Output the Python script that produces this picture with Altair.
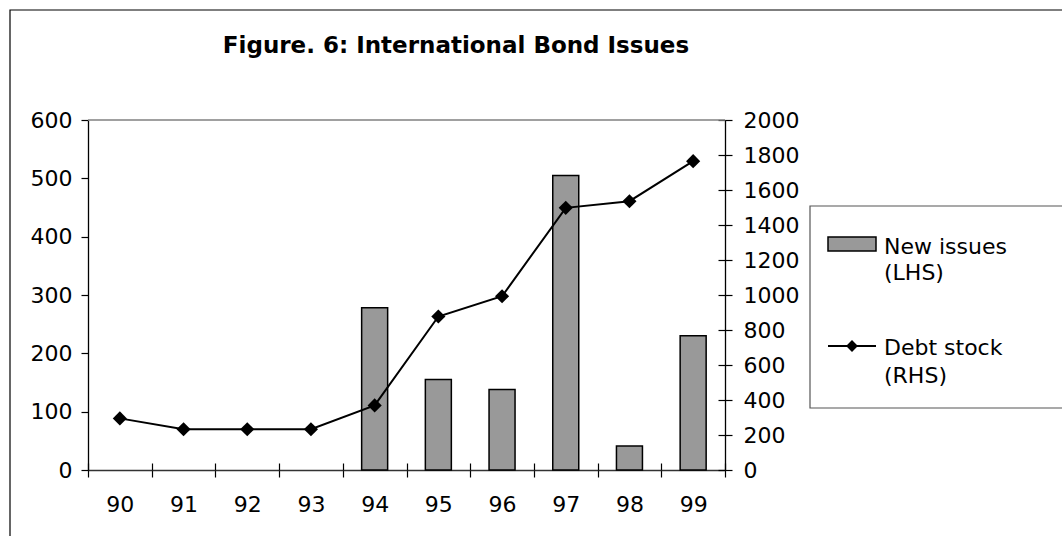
import altair as alt
import pandas as pd

years = ["90", "91", "92", "93", "94", "95", "96", "97", "98", "99"]
new_issues = [None, None, None, None, 278, 155, 138, 505, 41, 230]
debt_stock = [295, 233, 233, 233, 369, 877, 993, 1498, 1536, 1765]
left_ticks = [0, 100, 200, 300, 400, 500, 600]
right_ticks = [0, 200, 400, 600, 800, 1000, 1200, 1400, 1600, 1800, 2000]
legend_labels = ["New issues", "(LHS)", "Debt stock", "(RHS)"]
title_text = "Figure. 6: International Bond Issues"

FONT = "DejaVu Sans"
FS = 22
W, H = 637, 350

df = pd.DataFrame({"year": years, "new": new_issues, "debt": debt_stock})
one = pd.DataFrame({"k": [0]})

xscale = alt.Scale(paddingInner=0, paddingOuter=0)

bars = alt.Chart(df).mark_bar(size=26, fill="#999999", stroke="black", strokeWidth=1.5).encode(
    x=alt.X("year:N", sort=years, scale=xscale, title=None,
            axis=alt.Axis(orient="bottom", tickBand="extent", tickSize=7, tickColor="black",
                          tickWidth=1.2, domainColor="#333333", domainWidth=1.3, labelAngle=0,
                          labelPadding=17, labelFont=FONT, labelFontSize=FS, labelColor="black",
                          grid=False)),
    y=alt.Y("new:Q", scale=alt.Scale(domain=[0, 600], nice=False, zero=True), title=None,
            axis=alt.Axis(orient="left", values=left_ticks, format="d", tickSize=7, tickColor="black",
                          tickWidth=1.2, domainColor="black", domainWidth=1.3, labelPadding=9,
                          labelFont=FONT, labelFontSize=FS, labelColor="black", grid=False)),
)

line = alt.Chart(df).mark_line(
    color="black", strokeWidth=2,
    point=alt.OverlayMarkDef(shape="diamond", size=200, filled=True, fill="black", color="black", opacity=1),
).encode(
    x=alt.X("year:N", sort=years, scale=xscale, axis=None),
    y=alt.Y("debt:Q", scale=alt.Scale(domain=[0, 2000], nice=False, zero=True), title=None,
            axis=alt.Axis(orient="right", values=right_ticks, format="d", tickSize=7, tickColor="black",
                          tickWidth=1.2, domainColor="black", domainWidth=1.3, labelPadding=11,
                          labelFont=FONT, labelFontSize=FS, labelColor="black", grid=False)),
)

inner = alt.Chart(df).mark_point(opacity=0).encode(
    x=alt.X("year:N", sort=years, scale=xscale, title=None,
            axis=alt.Axis(orient="bottom", offset=-7, labels=False, domain=False, tickBand="extent",
                          tickSize=7, tickColor="black", tickWidth=1.2, grid=False)),
    y=alt.Y("debt:Q", scale=alt.Scale(domain=[0, 2000], nice=False, zero=True), title=None,
            axis=alt.Axis(orient="right", offset=-7, labels=False, domain=False, values=right_ticks,
                          tickSize=7, tickColor="black", tickWidth=1.2, grid=False)),
)

base = alt.Chart(one)

outer = base.mark_rect(fillOpacity=0, stroke="black", strokeWidth=1.2).encode(
    x=alt.value(-78), x2=alt.value(1100), y=alt.value(-110), y2=alt.value(600))
top_border = base.mark_rule(color="#808080", strokeWidth=1.3).encode(
    x=alt.value(0), x2=alt.value(W), y=alt.value(0))
title = base.mark_text(text=title_text, font=FONT, fontSize=23, fontWeight="bold", align="center",
                       baseline="alphabetic", color="black").encode(x=alt.value(368), y=alt.value(-67))

leg_box = base.mark_rect(fillOpacity=0, stroke="#555555", strokeWidth=1.2).encode(
    x=alt.value(722), x2=alt.value(1100), y=alt.value(86), y2=alt.value(288))
leg_bar = base.mark_rect(fill="#999999", stroke="black", strokeWidth=1.5).encode(
    x=alt.value(740), x2=alt.value(788), y=alt.value(117), y2=alt.value(131))
leg_line = base.mark_rule(color="black", strokeWidth=2).encode(
    x=alt.value(740), x2=alt.value(788), y=alt.value(226))
leg_pt = base.mark_point(shape="diamond", size=140, filled=True, color="black", opacity=1).encode(
    x=alt.value(764), y=alt.value(226))
leg_texts = [
    base.mark_text(text=t, font=FONT, fontSize=FS, align="left", baseline="alphabetic", color="black")
    .encode(x=alt.value(796), y=alt.value(yy))
    for t, yy in zip(legend_labels, [134, 160, 235, 263])
]

chart = alt.layer(
    outer, top_border, title, leg_box, leg_bar, leg_line, leg_pt, *leg_texts,
    bars, line, inner,
).resolve_scale(y="independent").resolve_axis(x="independent", y="independent").properties(
    width=W, height=H,
    autosize=alt.AutoSizeParams(type="none"),
    padding={"left": 88, "top": 120, "right": 1062 - 88 - W, "bottom": 536 - 120 - H},
    background="white",
).configure_view(stroke=None)

chart.save("out.html", embed_options={"renderer": "svg", "actions": False})
